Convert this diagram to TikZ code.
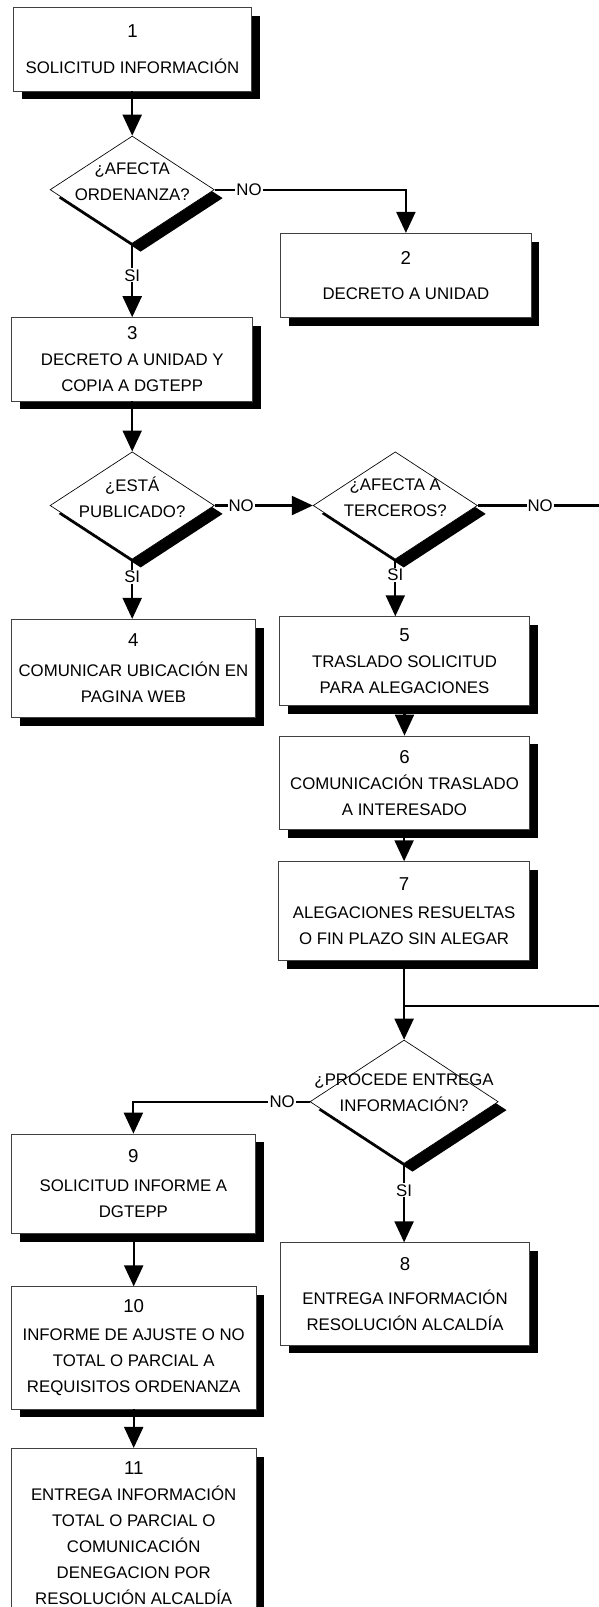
\documentclass[tikz,border=0pt]{standalone}
\usepackage{fontspec}
\setmainfont{Liberation Sans}
\usetikzlibrary{shapes.geometric,shadows,arrows.meta}
\newcommand{\nr}{\fontsize{14}{19.5}\selectfont}
\tikzset{
	shade box/.style={drop shadow={shadow xshift=6.3pt, shadow yshift=-6.3pt, fill=black, opacity=1}},
	box/.style={rectangle, draw=black!75, line width=0.6pt, fill=white, align=center, inner sep=0pt,
		font=\fontsize{12.6}{19.5}\selectfont, shade box},
	decision/.style={diamond, draw=black, line width=0.5pt, fill=white, inner sep=0pt,
		minimum width=123.2pt, minimum height=80.5pt, shade box},
	dtext/.style={align=center, inner sep=0pt, yshift=6pt, font=\fontsize{12.6}{19.5}\selectfont},
	line/.style={line width=1.6pt},
	arrow/.style={line, -{Triangle[length=15.75pt,width=14.25pt]}},
	lbl/.style={fill=white, inner sep=0.8pt, font=\fontsize{12.6}{15}\selectfont}
}
\begin{document}
\begin{tikzpicture}[x=0.75pt, y=-0.75pt]
	\useasboundingbox (0,0) rectangle (599,1607);

	% left column
	\node (b1) [box, minimum width=178.8pt, minimum height=62.8pt] at (132.5,49.2)
		{{\nr 1}\\[7.5pt] SOLICITUD INFORMACIÓN};
	\node (d1) [decision] at (132.2,189.7) {};
	\node (d1t) [dtext] at (d1) {¿AFECTA\\ORDENANZA?};
	\node (b3) [box, minimum width=181pt, minimum height=62.5pt] at (132.2,359.3)
		{{\nr 3}\\ DECRETO A UNIDAD Y\\ COPIA A DGTEPP};
	\node (d2) [decision] at (132.2,505.5) {};
	\node (d2t) [dtext] at (d2) {¿ESTÁ\\PUBLICADO?};
	\node (b4) [box, minimum width=182.8pt, minimum height=73.8pt] at (133.4,668.5)
		{{\nr 4}\\[3pt] COMUNICAR UBICACIÓN EN\\ PAGINA WEB};
	\node (b9) [box, minimum width=182.8pt, minimum height=74.5pt] at (133.4,1183.7)
		{{\nr 9}\\[2.5pt] SOLICITUD INFORME A\\ DGTEPP};
	\node (b10) [box, minimum width=183.3pt, minimum height=91.7pt] at (133.7,1347.9)
		{{\nr 10}\\[1.5pt] INFORME DE AJUSTE O NO\\ TOTAL O PARCIAL A\\ REQUISITOS ORDENANZA};
	\node (b11) [box, minimum width=183.3pt, minimum height=126.5pt] at (133.7,1532.7)
		{{\nr 11}\\ ENTREGA INFORMACIÓN\\ TOTAL O PARCIAL O\\ COMUNICACIÓN\\ DENEGACION POR\\ RESOLUCIÓN ALCALDÍA};

	% right column
	\node (b2) [box, minimum width=187.7pt, minimum height=63pt] at (405.9,275.3)
		{{\nr 2}\\[7pt] DECRETO A UNIDAD};
	\node (d3) [decision] at (395.3,505.5) {};
	\node (d3t) [dtext] at (d3) {¿AFECTA A\\TERCEROS?};
	\node (b5) [box, minimum width=187.3pt, minimum height=66.8pt] at (404.5,661.2)
		{{\nr 5}\\ TRASLADO SOLICITUD\\ PARA ALEGACIONES};
	\node (b6) [box, minimum width=187.3pt, minimum height=70pt] at (404.5,782.7)
		{{\nr 6}\\ COMUNICACIÓN TRASLADO\\ A INTERESADO};
	\node (b7) [box, minimum width=188pt, minimum height=74.3pt] at (404.1,911.2)
		{{\nr 7}\\[1.7pt] ALEGACIONES RESUELTAS\\ O FIN PLAZO SIN ALEGAR};
	\node (d4) [decision, minimum width=141.2pt, minimum height=92.5pt] at (404.1,1101.7) {};
	\node (d4t) [dtext, yshift=1pt] at (d4) {¿PROCEDE ENTREGA\\INFORMACIÓN?};
	\node (b8) [box, minimum width=186.5pt, minimum height=76.7pt] at (405,1293.9)
		{{\nr 8}\\[6pt] ENTREGA INFORMACIÓN\\ RESOLUCIÓN ALCALDÍA};
	\coordinate (join) at (404.1,1006);

	% connectors
	\draw[arrow] (d1.north |- b1.south) -- (d1.north);
	\draw[arrow] (d1.east) -| node[lbl, pos=0.09] {NO} (b2.north);
	\draw[arrow] (d1.south) -- node[lbl, pos=0.43] {SI} (d1.south |- b3.north);
	\draw[arrow] (b3.south) -- (d2.north);
	\draw[arrow] (d2.east) -- node[lbl, pos=0.27] {NO} (d3.west);
	\draw[arrow] (d2.south) -- node[lbl, pos=0.29] {SI} (d2.south |- b4.north);
	\draw[line] (d3.east) -- node[lbl, pos=0.48] {NO} ++(130,0) |- (join);
	\draw[arrow] (d3.south) -- node[lbl, pos=0.27] {SI} (d3.south |- b5.north);
	\draw[arrow] (b5.south) -- (b6.north);
	\draw[arrow] (b7.north |- b6.south) -- (b7.north);
	\draw[arrow] (b7.south) -- (d4.north);
	\draw[arrow] (d4.west) -| node[lbl, pos=0.078] {NO} (b9.north);
	\draw[arrow] (d4.south) -- node[lbl, pos=0.34] {SI} (d4.south |- b8.north);
	\draw[arrow] (b10.north |- b9.south) -- (b10.north);
	\draw[arrow] (b10.south) -- (b11.north);
\end{tikzpicture}
\end{document}
